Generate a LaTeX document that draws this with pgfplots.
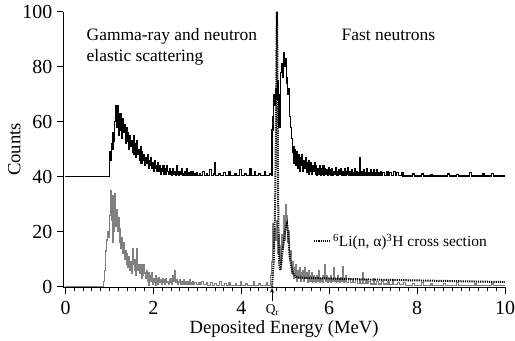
\documentclass[border=0pt]{standalone}
\usepackage{pgfplots}
\pgfplotsset{compat=1.18}
\usetikzlibrary{arrows.meta}
\usepackage{fontspec}
\setmainfont{Liberation Serif}
\begin{document}
\begin{tikzpicture}
\path[use as bounding box] (0,0) rectangle (515bp,341bp);
\begin{axis}[
  at={(63.3bp,53.7bp)}, anchor=south west,
  scale only axis, width=441.7bp, height=275.6bp,
  xmin=-0.05, xmax=10, ymin=-0.2, ymax=100,
  axis lines=left,
  x axis line style={-}, y axis line style={-},
  axis line style={line width=0.8bp},
  tick align=outside,
  xtick={0,2,4,6,8,10}, ytick={0,20,40,60,80,100},
  minor x tick num=9,
  major tick length=6.5bp, minor tick length=4bp,
  tick style={line width=0.8bp, black},
  /pgf/number format/assume math mode=true,
  tick label style={font=\fontsize{20}{22}\selectfont},
  x tick label style={yshift=-4bp},
  y tick label style={xshift=-1bp},
  xlabel={Deposited Energy (MeV)}, ylabel={Counts},
  label style={font=\fontsize{18.7}{20}\selectfont},
  xlabel style={yshift=-1bp, inner sep=1bp},
  ylabel style={yshift=-5bp},
  clip=false,
  legend style={draw=none, fill=none, at={(rel axis cs:0.565,0.168)}, anchor=west, inner sep=0pt,
    font=\fontsize{15.5}{17}\selectfont},
  legend image code/.code={\draw[#1] (0bp,0bp) -- (16bp,0bp);},
]
% black (upper) spectrum
\addplot[const plot mark left, black, line width=1.2bp, forget plot] table {
0 40
1.00 49
1.02 46
1.04 52
1.06 50
1.08 56
1.10 53
1.12 60
1.14 66
1.16 58
1.18 66
1.20 55
1.22 63
1.24 57
1.26 63
1.28 54
1.30 61
1.32 56
1.34 59
1.36 52
1.38 58
1.40 53
1.42 56
1.44 50
1.46 55
1.48 51
1.50 53
1.52 49
1.54 55
1.56 48
1.58 52
1.60 47
1.62 53
1.64 48
1.66 50
1.68 46
1.70 51
1.72 45
1.74 49
1.76 46
1.78 48
1.80 44
1.82 47
1.84 45
1.86 48
1.88 43
1.90 46
1.92 44
1.94 47
1.96 43
1.98 45
2.00 42
2.02 46
2.04 43
2.06 44
2.08 42
2.10 45
2.12 42
2.14 44
2.16 41
2.18 43
2.20 42
2.22 44
2.24 41
2.26 43
2.28 41
2.30 44
2.32 42
2.34 41
2.36 43
2.38 41
2.40 42
2.42 40.5
2.44 43
2.46 41
2.48 42
2.50 40.5
2.52 44
2.54 41
2.56 42
2.58 40.5
2.60 42
2.62 41
2.64 43
2.66 40.5
2.68 41
2.70 42
2.72 40.5
2.74 41
2.76 43
2.78 40.5
2.80 41.5
2.82 40.5
2.84 42
2.86 41
2.88 40.5
2.90 42
2.92 40.5
2.94 41
2.96 40.5
2.98 41.5
3.00 40.5
3.04 41
3.08 40.5
3.12 42
3.16 40.5
3.20 41
3.24 40.5
3.28 42.5
3.32 40.5
3.36 41
3.40 45
3.42 40.5
3.48 41
3.52 40.5
3.60 41.5
3.64 40.5
3.72 42
3.76 40.5
3.84 41
3.88 40.5
3.96 42.5
4.00 40.5
4.08 41
4.12 40.5
4.20 43
4.22 40.5
4.30 42
4.32 40.5
4.40 41
4.44 40.5
4.52 42
4.54 40.5
4.64 41
4.68 40.5
4.70 57
4.72 62
4.74 70
4.76 66
4.78 72
4.80 68
4.82 75
4.84 63
4.86 58
4.88 70
4.90 78
4.92 81
4.94 76
4.96 85
4.98 80
5.00 83
5.02 74
5.04 76
5.06 70
5.08 72
5.10 62
5.12 58
5.14 54
5.16 49
5.18 51
5.20 45
5.22 50
5.24 44
5.26 49
5.28 43
5.30 48
5.32 42
5.34 47
5.36 44
5.38 48
5.40 42
5.42 46
5.44 43
5.46 47
5.48 41.5
5.50 45
5.52 41
5.54 46
5.56 42
5.58 45
5.60 41
5.62 44
5.64 42
5.66 45
5.68 41
5.70 44
5.72 40.5
5.74 43
5.76 41
5.78 44
5.80 40.5
5.82 43
5.84 41
5.86 44
5.88 40.5
5.90 43
5.92 41
5.94 42.5
5.96 40.5
5.98 43.5
6.00 41
6.02 42.5
6.04 40.5
6.06 43
6.08 40.5
6.10 42
6.12 41
6.14 43.5
6.16 40.5
6.18 42
6.20 40.5
6.22 42.5
6.24 41
6.26 43
6.28 40.5
6.30 42
6.32 40.5
6.34 43
6.36 40.5
6.38 42
6.40 41
6.42 43.5
6.44 40.5
6.46 42
6.48 40.5
6.50 42.5
6.52 40.5
6.54 41.5
6.56 40.5
6.58 43
6.60 40.5
6.62 42
6.64 40.5
6.66 41.5
6.68 40.5
6.70 47
6.72 40.5
6.74 42
6.76 40.5
6.78 42.5
6.80 40.5
6.82 41.5
6.84 40.5
6.86 43
6.88 40.5
6.90 41.5
6.92 40.5
6.94 42.5
6.96 40.5
6.98 41.5
7.00 42.5
7.02 40.5
7.04 41.5
7.06 40.5
7.08 42.5
7.10 40.5
7.12 41.5
7.14 40.5
7.16 42
7.18 40.5
7.22 41.5
7.26 40.5
7.30 42
7.34 40.5
7.38 41.5
7.42 40.5
7.46 42
7.50 40.5
7.54 41.5
7.58 40.5
7.64 41.5
7.68 40.3
7.90 41
7.94 40.3
8.10 41
8.14 40.3
8.30 40.8
8.34 40.3
8.70 41
8.74 40.3
8.90 40.8
8.94 40.3
9.20 41.5
9.24 40.3
9.50 41
9.54 40.3
9.70 41.2
9.74 40.3
10.0 40.3
};
% gray (lower) spectrum
\addplot[const plot mark left, color={rgb,255:red,128;green,128;blue,128}, line width=1.1bp, forget plot] table {
0 0
0.86 2
0.88 6
0.90 10
0.92 13
0.94 17
0.96 20
0.98 18
1.00 26
1.02 35
1.04 24
1.06 16
1.08 33
1.10 20
1.12 34
1.14 22
1.16 28
1.18 20
1.20 25
1.22 16
1.24 21
1.26 14
1.28 18
1.30 12
1.32 16
1.34 10
1.36 13
1.38 8
1.40 12
1.42 7
1.44 11
1.46 6
1.48 9
1.50 5
1.52 14
1.54 8
1.56 6
1.58 10
1.60 4
1.62 14
1.64 6
1.66 8
1.68 5
1.70 8
1.72 3
1.74 8
1.76 4
1.78 8
1.80 5
1.82 3
1.84 6
1.86 2
1.88 5
1.90 0.5
1.92 4
1.94 2
1.96 5
1.98 1
2.00 3
2.02 1.5
2.04 4
2.06 0.5
2.08 3
2.10 1
2.12 3.5
2.14 1.5
2.16 2.5
2.18 1
2.20 3
2.22 1.5
2.24 2.5
2.26 1
2.28 3
2.30 1.5
2.32 2
2.34 1
2.36 2.5
2.38 1.5
2.40 3
2.42 1
2.44 4
2.46 2
2.48 6
2.50 1.5
2.52 2.5
2.54 1
2.56 2
2.58 1.5
2.60 2.5
2.62 1
2.64 2
2.66 1
2.68 2.5
2.70 1
2.72 1.5
2.74 2
2.76 1
2.78 2
2.80 1
2.82 2.5
2.84 1
2.86 1.5
2.88 2
2.90 1
2.94 1.5
2.98 0.8
3.02 1.5
3.06 0.8
3.10 1.8
3.14 0.8
3.20 1.5
3.24 0.6
3.30 1.5
3.34 0.6
3.40 1.2
3.44 0.6
3.50 1.8
3.54 0.5
3.62 1.2
3.66 0.5
3.72 1.6
3.76 0.5
3.86 1.2
3.90 0.4
3.98 2
4.00 0.4
4.10 1
4.14 0.4
4.28 1.8
4.30 0.4
4.40 1
4.44 0.3
4.58 1.5
4.60 0.3
4.66 4
4.68 9
4.70 16
4.72 23
4.74 14
4.76 21
4.78 17
4.80 24
4.82 12
4.84 19
4.86 10
4.88 15
4.90 8
4.92 19
4.94 14
4.96 26
4.98 17
5.00 30
5.02 22
5.04 26
5.06 16
5.08 20
5.10 10
5.12 13
5.14 5
5.16 9
5.18 3
5.20 7
5.22 4
5.24 8
5.26 2
5.28 6
5.30 3
5.32 7
5.34 2
5.36 5
5.38 3
5.40 6
5.42 2
5.44 7
5.46 3
5.48 5
5.50 1.5
5.52 6
5.54 2
5.56 4
5.58 2
5.60 5
5.62 1.5
5.64 4
5.66 2
5.68 3
5.70 1.5
5.72 4
5.74 2
5.76 6
5.78 1.5
5.80 3
5.82 2
5.84 4
5.86 1.5
5.88 3
5.90 8
5.92 2
5.94 4
5.96 1.5
5.98 3
6.00 2
6.02 4
6.04 1.5
6.06 3
6.08 2
6.10 7
6.12 2
6.14 3
6.16 1.5
6.18 4
6.20 2
6.22 3
6.24 1.5
6.26 3.5
6.28 2
6.30 7.5
6.32 1.5
6.34 3
6.36 2
6.38 4
6.40 1.5
6.44 3
6.48 1.5
6.52 2.5
6.56 1.5
6.60 3
6.64 1.2
6.68 2.5
6.72 1.2
6.76 5
6.78 1.2
6.82 2.5
6.86 1.2
6.90 2
6.94 1
7.00 3
7.02 1
7.08 2
7.12 1
7.20 2
7.24 1
7.32 1.8
7.36 0.8
7.44 2.5
7.46 0.8
7.56 1.5
7.60 0.8
7.70 1.5
7.74 0.6
7.90 1.2
7.94 0.6
8.10 1.5
8.14 0.6
8.30 1
8.34 0.6
8.60 1.2
8.64 0.5
8.90 1.5
8.94 0.5
9.30 1
9.34 0.5
9.70 1
9.74 0.5
10 0.5
};
% cross section (dotted)
\addplot[black, line width=2bp, dash pattern=on 1.2bp off 1bp] table {
4.70 0
4.74 10
4.77 30
4.79 60
4.80 85
4.81 100
4.82 85
4.83 55
4.84 30
4.85 16
4.86 9
4.88 6
4.90 6.5
4.93 12
4.99 19.5
5.02 22
5.04 23
5.06 21
5.08 16
5.10 11
5.13 8
5.17 5
5.24 3.6
5.30 3.4
5.5 3.2
6 3
7 2.6
8 2.3
9 2
10 1.7
};
\addlegendentry{\textsuperscript{6}Li(n, α)\textsuperscript{3}H cross section}
\node[anchor=base west, font=\fontsize{17.5}{19}\selectfont, inner sep=0pt] at (axis cs:0.478,89.7) {Gamma-ray and neutron};
\node[anchor=base west, font=\fontsize{17.5}{19}\selectfont, inner sep=0pt] at (axis cs:0.478,81.8) {elastic scattering};
\node[anchor=base west, font=\fontsize{17.5}{19}\selectfont, inner sep=0pt] at (axis cs:6.28,89.7) {Fast neutrons};
\draw[-{Stealth[length=5bp,width=4bp]}, line width=0.8bp] (axis cs:4.70,-5.3) -- (axis cs:4.70,-0.4);
\node[anchor=base, font=\fontsize{13.5}{15}\selectfont, inner sep=0pt] at (axis cs:4.71,-9.6) {Q\textsubscript{r}};
\end{axis}
\end{tikzpicture}
\end{document}
